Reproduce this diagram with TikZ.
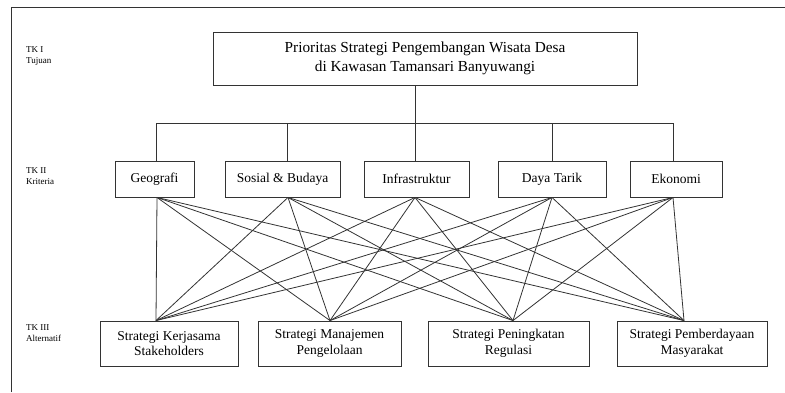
\documentclass[tikz,border=0pt]{standalone}
\usepackage{fontspec}
\setmainfont{Liberation Serif}
\usepackage{xcolor}
\usetikzlibrary{positioning}
\definecolor{ink}{HTML}{333333}

\begin{document}
\begin{tikzpicture}[
  x=1pt, y=-1pt,
  gbox/.style={draw=ink, line width=0.9pt, align=center, text=black,
              font=\fontsize{15.3}{19.5}\selectfont, minimum height=53pt, inner sep=2pt},
  kbox/.style={draw=ink, line width=0.9pt, align=center, text=black,
              font=\fontsize{13.5}{15}\selectfont, minimum height=36pt, inner sep=2pt},
  abox/.style={draw=ink, line width=0.9pt, align=center, text=black,
              font=\fontsize{13.5}{15.5}\selectfont, minimum height=45pt, inner sep=2pt},
  lvl/.style={align=left, anchor=north west, font=\fontsize{9}{11.5}\selectfont, inner sep=0pt},
  lnk/.style={draw=ink, line width=0.8pt}
]
\useasboundingbox (0,0) rectangle (785,392);
% frame (cut off at right and bottom)
\draw[ink, line width=1pt] (11.5,392) -- (11.5,7) -- (785,7);

% levels
\node[lvl] (l1) at (26,46) {TK I\\Tujuan};
\node[lvl] (l2) at (26,167) {TK II\\Kriteria};
\node[lvl] (l3) at (26,324) {TK III\\Alternatif};

% goal
\node[gbox, minimum width=424pt] (goal) at (425,58.5)
  {Prioritas Strategi Pengembangan Wisata Desa\\di Kawasan Tamansari Banyuwangi};

% criteria
\node[kbox, minimum width=79pt] (geo) at (154.5,179) {Geografi};
\node[kbox, minimum width=115pt] (sos) at (282.5,179) {Sosial \& Budaya};
\node[kbox, minimum width=105pt] (inf) at (416.5,179) {Infrastruktur};
\node[kbox, minimum width=108pt] (daya) at (552,179) {Daya Tarik};
\node[kbox, minimum width=92pt] (eko) at (676,179) {Ekonomi};

% alternatives
\node[abox, minimum width=138pt] (a1) at (169,343.5) {Strategi Kerjasama\\Stakeholders};
\node[abox, minimum width=143pt] (a2) at (329.5,343.5) {Strategi Manajemen\\Pengelolaan};
\node[abox, minimum width=161pt] (a3) at (508.5,343.5) {Strategi Peningkatan\\Regulasi};
\node[abox, minimum width=150pt] (a4) at (692,343.5) {Strategi Pemberdayaan\\Masyarakat};

% goal -> criteria
\coordinate (bus) at (415,123);
\coordinate (kg) at ([xshift=1.5pt]geo.north);
\coordinate (ks) at ([xshift=4.5pt]sos.north);
\coordinate (ki) at ([xshift=-1.5pt]inf.north);
\coordinate (kd) at (daya.north);
\coordinate (ke) at ([xshift=-3pt]eko.north);
\draw[lnk] (ki |- goal.south) -- (ki);
\draw[lnk] (kg |- bus) -- (ke |- bus);
\foreach \k in {kg,ks,kd,ke}
  \draw[lnk] (\k) -- (\k |- bus);

% criteria -> alternatives
\coordinate (bg) at ([xshift=2.5pt]geo.south);
\coordinate (bs) at ([xshift=5.5pt]sos.south);
\coordinate (bi) at ([xshift=-1.5pt]inf.south);
\coordinate (bd) at (daya.south);
\coordinate (be) at ([xshift=-3pt]eko.south);
\coordinate (t1) at ([xshift=-13pt]a1.north);
\coordinate (t2) at ([xshift=0.5pt]a2.north);
\coordinate (t3) at ([xshift=4.5pt]a3.north);
\coordinate (t4) at ([xshift=-8pt]a4.north);
\foreach \k in {bg,bs,bi,bd,be}
  \foreach \a in {t1,t2,t3,t4}
    \draw[lnk] (\k) -- (\a);
\end{tikzpicture}
\end{document}
